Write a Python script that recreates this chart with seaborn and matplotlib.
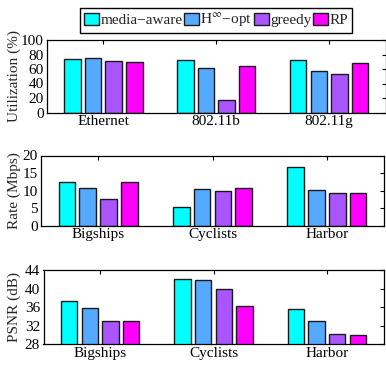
import numpy as np
import pandas as pd
import matplotlib
matplotlib.use("Agg")
import matplotlib.pyplot as plt
import seaborn as sns

# ---- data -------------------------------------------------------------
methods = ["media\u2212aware", r"$\mathrm{H}^{\infty}$" + "\u2212opt", "greedy", "RP"]
colors = ["#00FFFF", "#55AAFF", "#AA55FF", "#FF00FF"]

networks = ["Ethernet", "802.11b", "802.11g"]
util_media = [73.3, 72.4, 71.9]
util_hinf = [74.7, 61.8, 57.6]
util_greedy = [70.5, 17.1, 52.5]
util_rp = [69.6, 63.6, 67.7]

videos = ["Bigships", "Cyclists", "Harbor"]
rate_media = [12.5, 5.2, 16.7]
rate_hinf = [10.7, 10.5, 10.3]
rate_greedy = [7.7, 10.0, 9.4]
rate_rp = [12.4, 10.6, 9.4]

psnr_media = [37.3, 42.0, 35.7]
psnr_hinf = [35.9, 41.9, 33.1]
psnr_greedy = [33.0, 40.0, 30.3]
psnr_rp = [33.1, 36.3, 29.9]

util_ticks = [0, 20, 40, 60, 80, 100]
rate_ticks = [0, 5, 10, 15, 20]
psnr_ticks = [28, 32, 36, 40, 44]


def long_form(cats, series):
    rows = []
    for m, vals in zip(methods, series):
        for c, v in zip(cats, vals):
            rows.append({"cat": c, "method": m, "value": v})
    return pd.DataFrame(rows)


df_util = long_form(networks, [util_media, util_hinf, util_greedy, util_rp])
df_rate = long_form(videos, [rate_media, rate_hinf, rate_greedy, rate_rp])
df_psnr = long_form(videos, [psnr_media, psnr_hinf, psnr_greedy, psnr_rp])

# ---- style ------------------------------------------------------------
sns.set_style("white")
plt.rcParams["font.family"] = ["Liberation Serif", "DejaVu Serif"]
plt.rcParams["mathtext.fontset"] = "stix"
plt.rcParams["font.size"] = 11
plt.rcParams["axes.linewidth"] = 0.9

W, H = 386, 365
fig = plt.figure(figsize=(W / 100, H / 100), dpi=100)


def add_axes(left, right, top, bottom):
    return fig.add_axes([left / W, 1 - bottom / H, (right - left) / W, (bottom - top) / H])


ax1 = add_axes(47, 385.5, 40, 112.5)
ax2 = add_axes(41, 384, 155.5, 225.7)
ax3 = add_axes(43.5, 383.5, 270, 344.3)

panels = [
    (ax1, df_util, networks, util_ticks, "Utilization (%)", -0.077),
    (ax2, df_rate, videos, rate_ticks, "Rate (Mbps)", -0.058),
    (ax3, df_psnr, videos, psnr_ticks, "PSNR (dB)", -0.066),
]

for ax, df, cats, yt, ylab, lx in panels:
    sns.barplot(data=df, x="cat", y="value", hue="method", order=cats,
                hue_order=methods, palette=colors, width=0.73, gap=0.2,
                edgecolor="#1a1a1a", linewidth=1.0, errorbar=None,
                saturation=1, ax=ax)
    ax.set_xlim(-0.5, len(cats) - 0.5)
    ax.set_ylim(yt[0], yt[-1])
    ax.set_yticks(yt)
    ax.set_xlabel("")
    ax.set_ylabel(ylab)
    ax.yaxis.set_label_coords(lx, 0.5)
    ax.tick_params(direction="in", top=True, right=True, length=3,
                   width=0.8, color="black", labelcolor="black", pad=2.5)
    ax.tick_params(axis="x", pad=2)
    for s in ax.spines.values():
        s.set_visible(True)
        s.set_color("black")
        s.set_linewidth(0.9)
    leg = ax.get_legend()
    if leg is not None:
        leg.remove()

handles, labels = ax1.get_legend_handles_labels()
fig.legend(handles[:4], labels[:4], loc="center",
           bbox_to_anchor=(216 / W, 1 - 20.5 / H), ncol=4, frameon=True,
           fancybox=False, edgecolor="black", framealpha=1,
           handlelength=1.0, handleheight=0.9, handletextpad=0.1,
           columnspacing=0.08, borderpad=0.25, borderaxespad=0,
           fontsize=11)
fig.legends[0].get_frame().set_linewidth(1.0)

fig.savefig("out.png", dpi=100)
